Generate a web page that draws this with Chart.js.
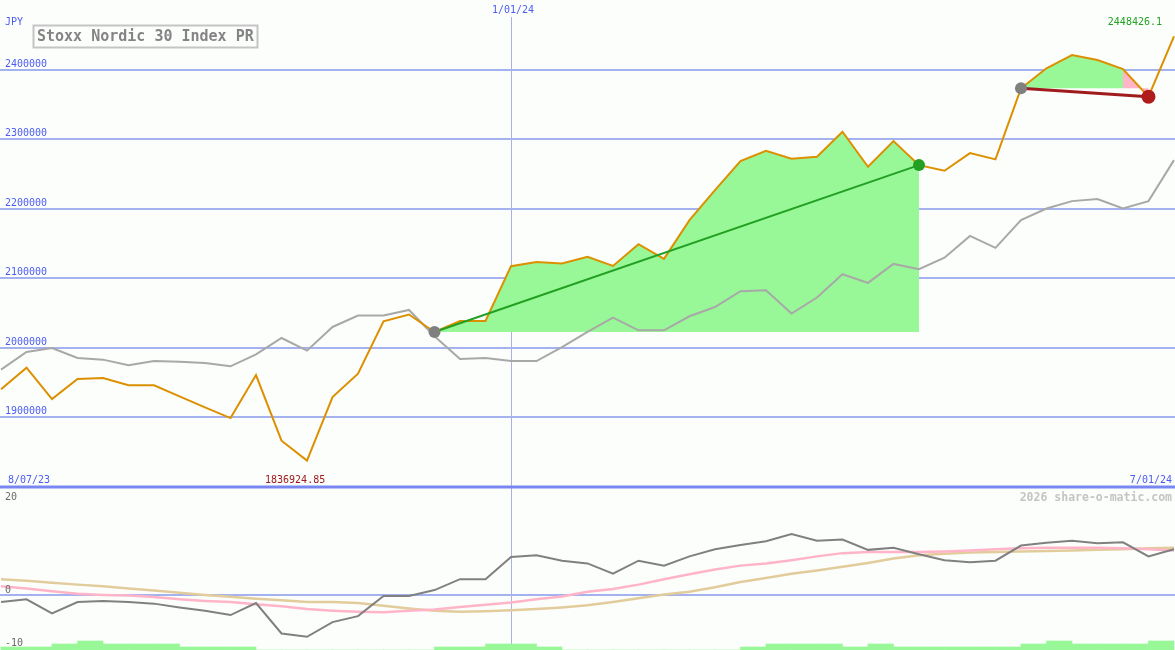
<!DOCTYPE html>
<html><head><meta charset="utf-8">
<script src="https://cdn.jsdelivr.net/npm/chart.js@4.4.1/dist/chart.umd.min.js"></script>
<style>
html,body{margin:0;padding:0;background:#fcfefc;overflow:hidden}
#wrap{position:relative;width:1175px;height:650px}
canvas{position:absolute;left:0}
#c1{top:0;width:1175px;height:489px}
#c2{top:489px;width:1175px;height:161px}
</style></head><body>
<div id="wrap"><canvas id="c1" width="1175" height="489"></canvas><canvas id="c2" width="1175" height="161"></canvas></div>
<script>
// ---- data (weekly points, index 0..46) ----
const priceValues = [1939700, 1971000, 1925700, 1954500, 1956000, 1945500, 1945500, 1929600, 1913700, 1898300,
  1960300, 1865700, 1836924.85, 1928600, 1962300, 2037800, 2047500, 2022400, 2038200, 2038200,
  2117200, 2123400, 2121100, 2130600, 2117600, 2148900, 2127700, 2183600, 2226800, 2268700,
  2283600, 2272100, 2274900, 2311000, 2260500, 2297500, 2262900, 2254700, 2280200, 2271100,
  2373600, 2402500, 2421600, 2414400, 2401400, 2361500, 2448426.1];
const compareValues = [1968100, 1993500, 1999300, 1984800, 1982500, 1974300, 1980500, 1979600, 1977500, 1972900,
  1990200, 2013700, 1995500, 2029600, 2046000, 2046000, 2054100, 2016200, 1983400, 1984800,
  1980500, 1980500, 2000500, 2022400, 2043100, 2024800, 2024800, 2045000, 2058400, 2081100,
  2082500, 2048900, 2072000, 2105600, 2093100, 2120500, 2112800, 2129400, 2160900, 2143600,
  2183600, 2200400, 2211000, 2213900, 2200400, 2211000, 2270100];
const oscValues = [-1.2, -0.7, -3.3, -1.2, -1.0, -1.2, -1.5, -2.2, -2.8, -3.6,
  -1.4, -7.0, -7.6, -4.9, -3.8, -0.1, -0.1, 1.0, 3.0, 3.0,
  7.1, 7.4, 6.4, 5.9, 4.0, 6.4, 5.5, 7.2, 8.5, 9.3,
  10.0, 11.3, 10.1, 10.3, 8.4, 8.8, 7.6, 6.5, 6.1, 6.4,
  9.2, 9.7, 10.1, 9.6, 9.8, 7.2, 8.5];
const pinkValues = [1.7, 1.3, 0.8, 0.3, 0.1, 0.0, -0.3, -0.7, -1.0, -1.2,
  -1.6, -2.0, -2.5, -2.8, -3.0, -3.1, -2.8, -2.6, -2.1, -1.7,
  -1.3, -0.7, -0.2, 0.7, 1.2, 2.0, 3.0, 3.9, 4.8, 5.5,
  5.9, 6.5, 7.2, 7.8, 8.0, 8.0, 8.0, 8.1, 8.3, 8.5,
  8.7, 8.8, 8.8, 8.8, 8.7, 8.5, 8.3];
const tanValues = [3.0, 2.7, 2.35, 2.0, 1.7, 1.3, 0.9, 0.5, 0.1, -0.25,
  -0.6, -0.9, -1.2, -1.2, -1.4, -1.9, -2.4, -2.8, -3.0, -2.9,
  -2.7, -2.5, -2.2, -1.8, -1.2, -0.5, 0.2, 0.7, 1.5, 2.5,
  3.2, 4.0, 4.6, 5.3, 6.0, 6.8, 7.4, 7.7, 7.9, 8.0,
  8.1, 8.2, 8.3, 8.4, 8.5, 8.7, 8.8];
const histValues = [1, 1, 2, 3, 2, 2, 2, 1, 1, 1,
  0, 0, 0, 0, 0, 0, 0, 1, 1, 2,
  2, 1, 0, 0, 0, 0, 0, 0, 0, 1,
  2, 2, 2, 1, 2, 1, 1, 1, 1, 1,
  2, 3, 2, 2, 2, 3];
const priceTicks = [1900000, 2000000, 2100000, 2200000, 2300000, 2400000];
const oscTicks = [20, 0, -10];
const titleText = 'Stoxx Nordic 30 Index PR';
const currencyLabel = 'JPY';
const startDateLabel = '8/07/23';
const midDateLabel = '1/01/24';
const endDateLabel = '7/01/24';
const midDateIndex = 20;
const minLabel = '1836924.85';
const maxLabel = '2448426.1';
const watermark = '2026 share-o-matic.com';
const trend1 = [17, 36];
const trend2 = [40, 45];

// ---- helpers ----
const pts = arr => arr.map((v, i) => ({x: i, y: v}));
const sub = (arr, a, b) => arr.slice(a, b + 1).map((v, k) => ({x: a + k, y: v}));
const BG = '#fcfefc';
const GRID = '#a4b2f0';
const BLUE_TXT = '#4c5cf0';
const MONO = '"DejaVu Sans Mono", "Liberation Mono", monospace';
const X_MIN = -0.04, X_MAX = 46.04;

const topDecor = {
  id: 'topDecor',
  beforeDraw(chart) {
    const c = chart.ctx;
    c.save(); c.fillStyle = BG; c.fillRect(0, 0, chart.width, chart.height); c.restore();
  },
  beforeDatasetsDraw(chart) {
    const c = chart.ctx, ys = chart.scales.y, xs = chart.scales.x, a = chart.chartArea;
    c.save();
    c.strokeStyle = GRID; c.lineWidth = 2;
    priceTicks.forEach(t => {
      const y = Math.round(ys.getPixelForValue(t));
      c.beginPath(); c.moveTo(a.left, y); c.lineTo(a.right, y); c.stroke();
    });
    const vx = Math.round(xs.getPixelForValue(midDateIndex)) + 0.5;
    c.strokeStyle = '#a8b0e4'; c.lineWidth = 1;
    c.beginPath(); c.moveTo(vx, a.top + 17); c.lineTo(vx, a.bottom); c.stroke();
    c.restore();
  },
  afterDatasetsDraw(chart) {
    const c = chart.ctx, ys = chart.scales.y, xs = chart.scales.x, a = chart.chartArea;
    c.save();
    // bottom panel border
    c.strokeStyle = '#7888f0'; c.lineWidth = 3;
    c.beginPath(); c.moveTo(a.left, a.bottom - 2); c.lineTo(a.right, a.bottom - 2); c.stroke();
    c.font = '10px ' + MONO; c.textBaseline = 'alphabetic';
    c.fillStyle = BLUE_TXT; c.textAlign = 'left';
    priceTicks.forEach(t => c.fillText(String(t), 5, Math.round(ys.getPixelForValue(t)) - 3));
    c.fillText(currencyLabel, 5, 25);
    c.fillText(startDateLabel, 8, 483);
    c.textAlign = 'right'; c.fillText(endDateLabel, 1172, 483);
    c.textAlign = 'center'; c.fillText(midDateLabel, xs.getPixelForValue(midDateIndex) + 2, 13);
    c.fillStyle = '#a01818'; c.textAlign = 'left'; c.fillText(minLabel, 265, 483);
    c.fillStyle = '#22a022'; c.textAlign = 'right'; c.fillText(maxLabel, 1162, 25);
    // title box
    c.fillStyle = BG; c.fillRect(33, 25, 225, 23);
    c.strokeStyle = '#c4c4c4'; c.lineWidth = 2; c.strokeRect(33.5, 25.5, 224, 22);
    c.fillStyle = '#848484'; c.textAlign = 'left'; c.font = 'bold 15px ' + MONO;
    c.fillText(titleText, 37, 41);
    c.restore();
  }
};

const marker = (i, color, r) => ({
  type: 'scatter', data: [{x: i, y: priceValues[i]}], showLine: false,
  pointRadius: r, pointBackgroundColor: color, pointBorderColor: color, pointBorderWidth: 0, order: 1
});

new Chart(document.getElementById('c1'), {
  type: 'line',
  data: {
    datasets: [
      {data: sub(priceValues, trend1[0], trend1[1]), fill: {value: priceValues[trend1[0]]},
       backgroundColor: '#98f898', borderWidth: 0, pointRadius: 0, tension: 0, order: 20},
      {data: sub(priceValues, trend2[0], 44), fill: {value: priceValues[trend2[0]]},
       backgroundColor: '#98f898', borderWidth: 0, pointRadius: 0, tension: 0, order: 20},
      {data: sub(priceValues, 44, trend2[1]), fill: {value: priceValues[trend2[0]]},
       backgroundColor: '#ffb4c8', borderWidth: 0, pointRadius: 0, tension: 0, order: 20},
      {data: pts(compareValues), borderColor: '#a8a8a8', borderWidth: 2, pointRadius: 0, fill: false, tension: 0, order: 6},
      {data: pts(priceValues), borderColor: '#dc9000', borderWidth: 2, pointRadius: 0, fill: false, tension: 0, order: 5},
      {data: [{x: trend1[0], y: priceValues[trend1[0]]}, {x: trend1[1], y: priceValues[trend1[1]]}],
       borderColor: '#22a022', borderWidth: 2, pointRadius: 0, fill: false, order: 3},
      {data: [{x: trend2[0], y: priceValues[trend2[0]]}, {x: trend2[1], y: priceValues[trend2[1]]}],
       borderColor: '#a01c1c', borderWidth: 3, pointRadius: 0, fill: false, order: 3},
      marker(trend1[0], '#808080', 6),
      marker(trend1[1], '#22a022', 6),
      marker(trend2[0], '#808080', 6),
      marker(trend2[1], '#b01c1c', 7)
    ]
  },
  options: {
    responsive: false, animation: false, devicePixelRatio: 1,
    layout: {padding: 0, autoPadding: false},
    plugins: {legend: {display: false}, tooltip: {enabled: false}},
    scales: {
      x: {type: 'linear', min: X_MIN, max: X_MAX, display: false},
      y: {type: 'linear', min: 1796036, max: 2500901, display: false}
    }
  },
  plugins: [topDecor]
});

const botDecor = {
  id: 'botDecor',
  beforeDraw(chart) {
    const c = chart.ctx;
    c.save(); c.fillStyle = BG; c.fillRect(0, 0, chart.width, chart.height); c.restore();
  },
  beforeDatasetsDraw(chart) {
    const c = chart.ctx, ys = chart.scales.y, xs = chart.scales.x, a = chart.chartArea;
    c.save();
    c.strokeStyle = GRID; c.lineWidth = 2;
    const y0 = Math.round(ys.getPixelForValue(0));
    c.beginPath(); c.moveTo(a.left, y0); c.lineTo(a.right, y0); c.stroke();
    const vx = Math.round(xs.getPixelForValue(midDateIndex)) + 0.5;
    c.strokeStyle = '#a8b0e4'; c.lineWidth = 1;
    c.beginPath(); c.moveTo(vx, a.top); c.lineTo(vx, a.bottom); c.stroke();
    c.restore();
  },
  afterDatasetsDraw(chart) {
    const c = chart.ctx, ys = chart.scales.y;
    c.save();
    c.font = '10px ' + MONO; c.fillStyle = '#6a6a6a'; c.textAlign = 'left';
    oscTicks.forEach(t => {
      let y = ys.getPixelForValue(t) - 2;
      y = Math.max(11, Math.min(157, y));
      c.fillText(String(t), 5, y);
    });
    c.font = 'bold 11.5px ' + MONO; c.fillStyle = '#c4c4c4'; c.textAlign = 'right';
    c.fillText(watermark, 1172, 12);
    c.restore();
  }
};

new Chart(document.getElementById('c2'), {
  type: 'line',
  data: {
    datasets: [
      {type: 'bar', data: histValues.map((v, i) => ({x: i + 0.5, y: v})), yAxisID: 'yh',
       backgroundColor: '#98f898', borderWidth: 0, barPercentage: 1, categoryPercentage: 1, order: 20},
      {data: pts(tanValues), borderColor: '#e2cc9c', borderWidth: 2.5, pointRadius: 0, fill: false, tension: 0, order: 7},
      {data: pts(pinkValues), borderColor: '#ffb4c8', borderWidth: 2.5, pointRadius: 0, fill: false, tension: 0, order: 6},
      {data: pts(oscValues), borderColor: '#808080', borderWidth: 2, pointRadius: 0, fill: false, tension: 0, order: 5}
    ]
  },
  options: {
    responsive: false, animation: false, devicePixelRatio: 1,
    layout: {padding: 0, autoPadding: false},
    plugins: {legend: {display: false}, tooltip: {enabled: false}},
    scales: {
      x: {type: 'linear', min: X_MIN, max: X_MAX, display: false, offset: false},
      y: {type: 'linear', min: -10.04, max: 19.61, display: false},
      yh: {type: 'linear', min: 0, max: 53.67, display: false}
    }
  },
  plugins: [botDecor]
});
</script>
</body></html>
